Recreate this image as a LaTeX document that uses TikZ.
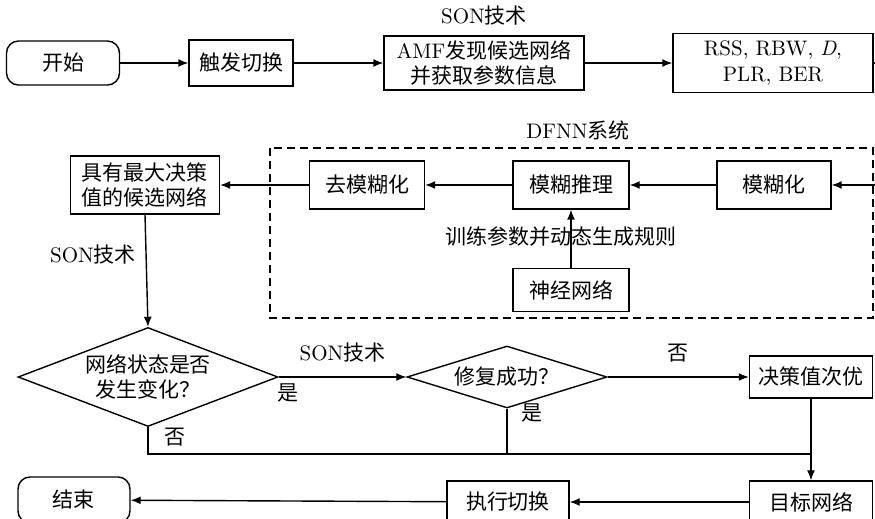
\documentclass[tikz,border=0pt]{standalone}
\usepackage{fontspec}
\newfontfamily\cjk{Noto Sans CJK SC}
\usetikzlibrary{shapes.geometric,arrows.meta}
\begin{document}
\begin{tikzpicture}[x=0.5pt,y=-0.5pt,
  font=\fontsize{10.5}{12.8}\selectfont,
  box/.style={draw, line width=0.7pt, inner sep=0pt, align=center},
  term/.style={box, rounded corners=6pt},
  dia/.style={draw, line width=0.7pt, shape=diamond, inner sep=0pt, align=center},
  ln/.style={line width=0.7pt},
  arr/.style={ln, -{Latex[length=5pt,width=4pt]}},
  lbl/.style={inner sep=0pt}
]
\useasboundingbox (0,0) rectangle (875,519);
\clip (0,0) rectangle (875,519);

% top row
\node[term, minimum width=56.5pt, minimum height=22pt] (start) at (63,63) {\cjk 开始};
\node[box, minimum width=52pt, minimum height=23pt] (trig) at (241,63) {\cjk 触发切换};
\node[box, minimum width=100pt, minimum height=27pt] (amf) at (484,63) {AMF{\cjk 发现候选网络}\\{\cjk 并获取参数信息}};
\node[box, minimum width=100pt, minimum height=29.5pt] (rss) at (773,63) {RSS, RBW, \textit{D},\\PLR, BER};
\node[lbl] (son1) at (484,16) {SON{\cjk 技术}};
\coordinate (rssout) at (895,63);

\draw[arr] (start) -- (trig);
\draw[arr] (trig) -- (amf);
\draw[arr] (amf) -- (rss);
\draw[ln] (rss) -- (rssout);

% DFNN system
\draw[ln, dashed, dash pattern=on 4pt off 2.5pt] (270,148) rectangle (873,318);
\node[lbl] (dfnn) at (578,130) {DFNN{\cjk 系统}};
\node[box, minimum width=74.5pt, minimum height=29pt] (maxn) at (145,185) {\cjk 具有最大决策\\\cjk 值的候选网络};
\node[box, minimum width=57.5pt, minimum height=24pt] (defuz) at (367,185) {\cjk 去模糊化};
\node[box, minimum width=58pt, minimum height=24pt] (infer) at (571,185) {\cjk 模糊推理};
\node[box, minimum width=57pt, minimum height=24pt] (fuz) at (774,185) {\cjk 模糊化};
\node[box, minimum width=58pt, minimum height=21.5pt] (nn) at (571,290) {\cjk 神经网络};
\coordinate (fuzin) at (895,185);

\draw[arr] (fuzin) -- (fuz);
\draw[arr] (fuz) -- (infer);
\draw[arr] (infer) -- (defuz);
\draw[arr] (defuz) -- (maxn);
\draw[arr] (nn) -- (infer);
\node[lbl] (train) at (561,237) {\cjk 训练参数并动态生成规则};

% decisions
\node[dia, aspect=2.6, minimum width=130pt, minimum height=49.5pt] (d1) at (148,377) {\cjk 网络状态是否\\\cjk 发生变化？};
\node[dia, aspect=3.2, minimum width=100pt, minimum height=31pt] (d2) at (507,377) {\cjk 修复成功？};
\node[box, minimum width=61.5pt, minimum height=21pt] (sub) at (811,377) {\cjk 决策值次优};
\node[lbl] (son2) at (93,255) {SON{\cjk 技术}};

\draw[arr] (maxn.south) -- (d1.north);
\draw[arr] (d1) -- node[lbl, above=7pt] (son3) {SON{\cjk 技术}} (d2);
\node[lbl] (yes1) at (288,393) {\cjk 是};
\draw[arr] (d2) -- node[lbl, above=7pt] (no2) {\cjk 否} (sub);

% bottom row
\node[box, minimum width=61.5pt, minimum height=21pt] (target) at (811,502) {\cjk 目标网络};
\node[box, minimum width=61pt, minimum height=21pt] (exec) at (508,502) {\cjk 执行切换};
\node[term, minimum width=56pt, minimum height=23pt] (end) at (74,500) {\cjk 结束};

\coordinate (j1) at (148,454);
\coordinate (j2) at (507,454);
\coordinate (j3) at (811,454);
\draw[ln] (d1.south) -- (j1) -- (j3);
\draw[ln] (d2.south) -- (j2);
\draw[arr] (sub) -- (target);
\node[lbl] (no1) at (175,437) {\cjk 否};
\node[lbl] (yes2) at (532,413) {\cjk 是};

\draw[arr] (target) -- (exec);
\draw[arr] (exec) -- (end);
\end{tikzpicture}
\end{document}
